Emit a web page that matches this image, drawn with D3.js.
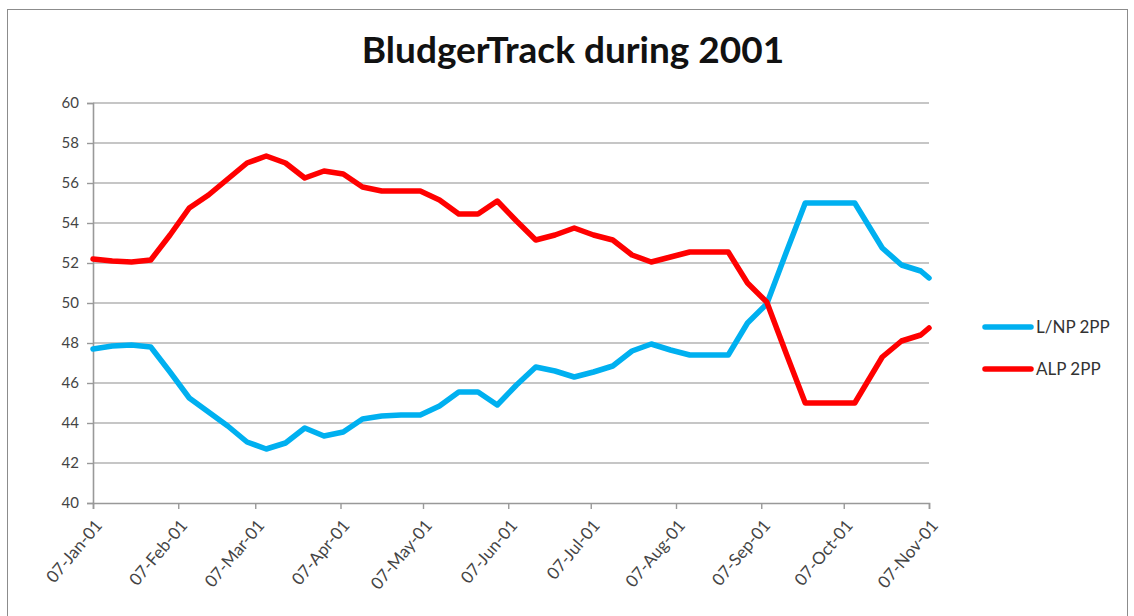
<!DOCTYPE html>
<html>
<head>
<meta charset="utf-8">
<script src="https://cdn.jsdelivr.net/npm/d3@7"></script>
<style>
  body { margin: 0; background: #fff; }
  text { font-family: Lato, "Open Sans", sans-serif; }
</style>
</head>
<body>
<script>
// poll dates (weekly, a few irregular at the end)
var dates = ["2001-01-07","2001-01-14","2001-01-21","2001-01-28","2001-02-04","2001-02-11",
  "2001-02-18","2001-02-25","2001-03-04","2001-03-11","2001-03-18","2001-03-25","2001-04-01",
  "2001-04-08","2001-04-15","2001-04-22","2001-04-29","2001-05-06","2001-05-13","2001-05-20",
  "2001-05-27","2001-06-03","2001-06-10","2001-06-17","2001-06-24","2001-07-01","2001-07-08",
  "2001-07-15","2001-07-22","2001-07-29","2001-08-05","2001-08-12","2001-08-19","2001-08-26",
  "2001-09-02","2001-09-09","2001-09-16","2001-09-23","2001-09-30","2001-10-07","2001-10-11",
  "2001-10-21","2001-10-28","2001-11-04","2001-11-07"];

var lnp = [47.7,47.85,47.9,47.8,46.55,45.25,44.55,43.85,43.05,42.7,43.0,43.75,43.35,
  43.55,44.2,44.35,44.4,44.4,44.85,45.55,45.55,44.9,45.9,46.8,46.6,46.3,46.55,46.85,
  47.6,47.95,47.65,47.4,47.4,47.4,49.0,49.95,52.5,55.0,55.0,55.0,55.0,52.75,51.9,51.6,51.25];

var alp = [52.2,52.1,52.05,52.15,53.4,54.75,55.4,56.2,57.0,57.35,57.0,56.25,56.6,
  56.45,55.8,55.6,55.6,55.6,55.15,54.45,54.45,55.1,54.1,53.15,53.4,53.75,53.4,53.15,
  52.4,52.05,52.3,52.55,52.55,52.55,51.0,50.05,47.5,45.0,45.0,45.0,45.0,47.3,48.1,48.4,48.75];

var seriesNames = ["L/NP 2PP", "ALP 2PP"];
var seriesColors = ["#00b0f0", "#ff0000"];
var yTicks = [40,42,44,46,48,50,52,54,56,58,60];
var xTickDates = ["2001-01-07","2001-02-07","2001-03-07","2001-04-07","2001-05-07","2001-06-07",
  "2001-07-07","2001-08-07","2001-09-07","2001-10-07","2001-11-07"];

var W = 1134, H = 616;
var plotLeft = 93, plotRight = 929, plotTop = 103, plotBottom = 503;

var parse = d3.timeParse("%Y-%m-%d");
var fmt = d3.timeFormat("%d-%b-%y");

var svg = d3.select("body").append("svg").attr("width", W).attr("height", H);

// chart frame
svg.append("rect")
  .attr("x", 7.5).attr("y", 9.5)
  .attr("width", 1120).attr("height", 640)
  .attr("fill", "none").attr("stroke", "#8c8c8c").attr("stroke-width", 1);

var x = d3.scaleTime()
  .domain([parse(xTickDates[0]), parse(xTickDates[xTickDates.length - 1])])
  .range([plotLeft, plotRight]);

var y = d3.scaleLinear().domain([40, 60]).range([plotBottom, plotTop]);

// gridlines
svg.append("g").selectAll("line")
  .data(yTicks.slice(1))
  .enter().append("line")
  .attr("x1", plotLeft).attr("x2", plotRight)
  .attr("y1", d => y(d)).attr("y2", d => y(d))
  .attr("stroke", "#b3b3b3").attr("stroke-width", 1.6);

// y axis
var yAxis = d3.axisLeft(y).tickValues(yTicks).tickSize(6).tickPadding(8);
var gy = svg.append("g").attr("transform", "translate(" + plotLeft + ",0)").call(yAxis);
gy.select(".domain").attr("stroke", "#999").attr("stroke-width", 1.6);
gy.selectAll(".tick line").attr("stroke", "#999").attr("stroke-width", 1.4);
gy.selectAll(".tick text").attr("font-size", "15px").attr("fill", "#444")
  .style("font-family", "Lato, sans-serif");

// x axis
var xAxis = d3.axisBottom(x).tickValues(xTickDates.map(parse)).tickFormat(fmt).tickSize(6);
var gx = svg.append("g").attr("transform", "translate(0," + plotBottom + ")").call(xAxis);
gx.select(".domain").attr("stroke", "#999").attr("stroke-width", 1.6);
gx.selectAll(".tick line").attr("stroke", "#999").attr("stroke-width", 1.4);
gx.selectAll(".tick text")
  .attr("font-size", "17px").attr("fill", "#444")
  .style("font-family", "Lato, sans-serif")
  .attr("text-anchor", "end")
  .attr("x", 0).attr("y", 0)
  .attr("dy", "0.35em")
  .attr("transform", "translate(5,19) rotate(-50)");

// lines
var line = d3.line()
  .x((d, i) => x(parse(dates[i])))
  .y(d => y(d));

[lnp, alp].forEach((vals, k) => {
  svg.append("path")
    .attr("d", line(vals))
    .attr("fill", "none")
    .attr("stroke", seriesColors[k])
    .attr("stroke-width", 5.5)
    .attr("stroke-linejoin", "round")
    .attr("stroke-linecap", "round");
});

// legend
var legend = svg.append("g");
seriesNames.forEach((name, k) => {
  var ly = 327 + k * 42;
  legend.append("line")
    .attr("x1", 985).attr("x2", 1031).attr("y1", ly).attr("y2", ly)
    .attr("stroke", seriesColors[k]).attr("stroke-width", 5.5)
    .attr("stroke-linecap", "round");
  legend.append("text")
    .attr("x", 1036).attr("y", ly).attr("dy", "0.35em")
    .attr("font-size", "17px").attr("fill", "#333")
    .text(name);
});

// title
svg.append("text")
  .attr("x", 573).attr("y", 63)
  .attr("text-anchor", "middle")
  .attr("font-size", "37px").attr("font-weight", "bold").attr("fill", "#111")
  .text("BludgerTrack during 2001");
</script>
</body>
</html>
